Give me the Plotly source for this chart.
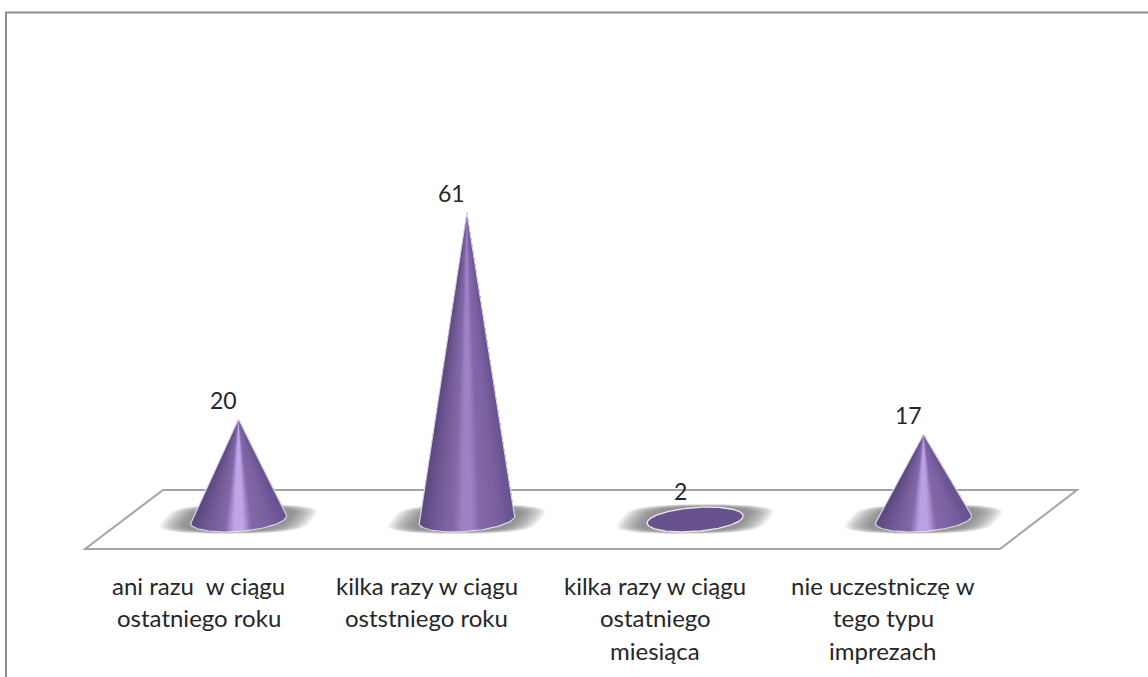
import numpy as np
import plotly.graph_objects as go

# ---- data ----
categories = [
    "ani razu  w ciągu<br>ostatniego roku",
    "kilka razy w ciągu<br>oststniego roku",
    "kilka razy w ciągu<br>ostatniego<br>miesiąca",
    "nie uczestniczę w<br>tego typu<br>imprezach",
]
values = [20, 61, 2, 17]

# ---- layout constants (pixels on the page) ----
W, H = 1148, 677
PX_LEFT_CENTRE, PX_STEP = 238.5, 228.33
PX_ZERO, PX_PER_UNIT = 520.0, 5.05
PLOT_BOTTOM = 555
FONT = "Lato"
TXT = "#262626"

def ux(px):      # horizontal pixel distance -> x-axis units
    return px / PX_STEP
def uy(px):      # vertical pixel distance -> y-axis units
    return px / PX_PER_UNIT
def xa(px):      # page x -> axis x
    return (px - PX_LEFT_CENTRE) / PX_STEP
def ya(py):      # page y -> axis y
    return (PX_ZERO - py) / PX_PER_UNIT

fig = go.Figure()

# --- soft shadows under the cones: sharp above and below, fading sideways
for i in range(len(values)):
    layers = 12
    for k in range(layers):
        f = k / (layers - 1)
        A = 74 - 24 * f
        B = 15.0 - 2.5 * f
        t = np.linspace(0, 2 * np.pi, 97)
        c, s = np.cos(t), np.sin(t)
        yp = B * np.sign(s) * np.abs(s) ** 0.45
        xp = A * np.sign(c) * np.abs(c) ** 0.9 - 0.8 * yp
        fig.add_trace(go.Scatter(
            x=i + ux(xp), y=ya(519) - uy(yp), mode="lines", fill="toself",
            fillcolor="rgba(110,110,110,0.095)", line=dict(width=0),
            hoverinfo="skip", showlegend=False))

# --- cones
STOPS_U = [-1.0, -0.6, -0.28, -0.1, 0.0, 0.1, 0.28, 0.6, 1.0]
def shade(u, hi):
    edge_l = (92, 73, 128)
    mid_l = (116, 92, 152)
    side = (130, 104, 168)
    edge_r = (104, 82, 146)
    mid_r = (124, 98, 162)
    stops = [edge_l, mid_l, side, hi, hi, hi, side, mid_r, edge_r]
    ch = [np.interp(u, STOPS_U, [p[j] for p in stops]) for j in range(3)]
    return "rgb(%d,%d,%d)" % tuple(int(round(v)) for v in ch)

highlights = [(190, 164, 232), (158, 128, 198), (104, 82, 142), (186, 160, 228)]
BASE_A, BASE_B, BASE_TILT = 48.0, 12.0, 3.5
BASE_CY = 519.5

def base_point(t):
    xp = BASE_A * np.cos(t)
    yp = BASE_B * np.sin(t) - BASE_TILT * np.cos(t)
    return xp, yp      # page-pixel offsets, y downward

for i, v in enumerate(values):
    apex_x, apex_y = i, v
    cy = ya(BASE_CY)
    t_all = np.linspace(0, 2 * np.pi, 241)
    ex, ey = base_point(t_all)
    if v < 4:
        # the cone is so short that only its base is visible
        fig.add_trace(go.Scatter(
            x=i + ux(ex), y=cy - uy(ey), mode="lines", fill="toself",
            fillcolor="rgb(104,82,142)", line=dict(color="#e9e6ef", width=1.4),
            hoverinfo="skip", showlegend=False))
        continue
    # front arc, left tangent to right tangent
    n = 64
    t_front = np.linspace(np.pi + 0.15, -0.15, n + 1)
    fx, fy = base_point(t_front)
    X = i + ux(fx)
    Y = cy - uy(fy)
    # painter's order: each fan piece covers everything to its right, so no seams
    for k in range(n):
        um = (fx[k] + fx[k + 1]) / 2 / BASE_A
        col = shade(um, highlights[i])
        xs = [apex_x] + list(X[k:]) + [apex_x]
        ys = [apex_y] + list(Y[k:]) + [apex_y]
        fig.add_trace(go.Scatter(
            x=xs, y=ys, mode="lines", fill="toself", fillcolor=col,
            line=dict(width=0), hoverinfo="skip", showlegend=False))
    # pale rim around the cone
    fig.add_trace(go.Scatter(
        x=[apex_x] + list(X) + [apex_x],
        y=[apex_y] + list(Y) + [apex_y],
        mode="lines", line=dict(color="rgba(240,238,245,0.85)", width=1.2),
        hoverinfo="skip", showlegend=False))

# --- floor and outer frame
def xp_paper(px):
    return px / W
def yp_paper(py):
    return 1 - py / PLOT_BOTTOM

floor_path = "M {} {} L {} {} L {} {} L {} {} Z".format(
    xa(85), ya(549), xa(1000), ya(549), xa(1077), ya(490), xa(163), ya(490))
shapes = [
    dict(type="path", path=floor_path, xref="x", yref="y", layer="below",
         fillcolor="white", line=dict(color="#a4a4a4", width=2)),
    dict(type="line", xref="paper", yref="paper", x0=xp_paper(6), x1=xp_paper(6),
         y0=yp_paper(12), y1=yp_paper(677), layer="below",
         line=dict(color="#8f8f8f", width=2)),
    dict(type="line", xref="paper", yref="paper", x0=xp_paper(5), x1=xp_paper(1148),
         y0=yp_paper(12.5), y1=yp_paper(12.5), layer="below",
         line=dict(color="#8f8f8f", width=2)),
]

annotations = []
# --- value labels
for i, v in enumerate(values):
    annotations.append(dict(
        x=i, y=v, xref="x", yref="y", text=str(v), showarrow=False,
        xshift=-15, yshift=19, xanchor="center", yanchor="middle",
        font=dict(family=FONT, size=23, color=TXT)))
# --- category labels, with the wide line spacing of the original
LINE_Y = [30, 62, 95]
for i, cat in enumerate(categories):
    for j, line in enumerate(cat.split("<br>")):
        annotations.append(dict(
            x=i, y=0, xref="x", yref="paper", text=line.replace("  ", "&nbsp; "),
            showarrow=False, xanchor="center", yanchor="middle",
            yshift=-LINE_Y[j], xshift=-40,
            font=dict(family=FONT, size=24, color=TXT)))

fig.update_layout(
    width=W, height=H, margin=dict(l=0, r=0, t=0, b=H - PLOT_BOTTOM, pad=0),
    paper_bgcolor="white", plot_bgcolor="rgba(0,0,0,0)", showlegend=False,
    xaxis=dict(range=[xa(0), xa(W)], visible=False, tickvals=list(range(len(categories)))),
    yaxis=dict(range=[ya(PLOT_BOTTOM), ya(0)], visible=False),
    shapes=shapes, annotations=annotations,
)
fig.write_html("out.html", config=dict(displayModeBar=False),
               post_script="document.body.style.margin='0';document.documentElement.style.overflow='hidden';")
